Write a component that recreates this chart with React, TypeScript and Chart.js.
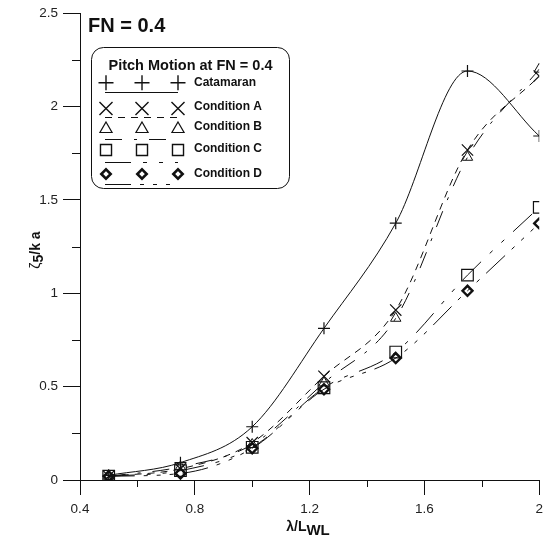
import { useEffect, useRef } from 'react';
import { Chart, registerables } from 'chart.js';

Chart.register(...registerables);

// Wave length ratio λ/L_WL
const waveLengths = [0.5, 0.75, 1.0, 1.25, 1.5, 1.75, 2.0];

// Non-dimensional pitch amplitude ζ5/ka
const catamaran = [0.025, 0.093, 0.285, 0.812, 1.375, 2.19, 1.842];
const conditionA = [0.02, 0.06, 0.2, 0.555, 0.91, 1.767, 2.163];
const conditionB = [0.02, 0.07, 0.19, 0.52, 0.866, 1.728, 2.2];
const conditionC = [0.02, 0.05, 0.175, 0.494, 0.685, 1.097, 1.46];
const conditionD = [0.02, 0.035, 0.17, 0.486, 0.653, 1.013, 1.374];

const seriesNames = ['Catamaran', 'Condition A', 'Condition B', 'Condition C', 'Condition D'];
const xTickLabels = ['0.4', '0.8', '1.2', '1.6', '2'];
const yTickLabels = ['0', '0.5', '1', '1.5', '2', '2.5'];
const xMinorTicks = [0.6, 1.0, 1.4, 1.8];
const yMinorTicks = [0.25, 0.75, 1.25, 1.75, 2.25];

const chartTitle = 'FN = 0.4';
const legendTitle = 'Pitch Motion at FN = 0.4';

type SeriesStyle = {
  point: 'cross' | 'crossRot' | 'triangle' | 'rect' | 'rectRot';
  radius: number;
  legendRadius: number;
  pointWidth: number;
  dash: number[];
};

const seriesStyles: SeriesStyle[] = [
  { point: 'cross', radius: 6, legendRadius: 7.5, pointWidth: 1.2, dash: [] },
  { point: 'crossRot', radius: 8, legendRadius: 9.2, pointWidth: 1.2, dash: [7, 6] },
  { point: 'triangle', radius: 6, legendRadius: 7, pointWidth: 1, dash: [17, 12, 3, 12] },
  { point: 'rect', radius: 8.2, legendRadius: 7.8, pointWidth: 1.2, dash: [26, 12, 4, 12, 4, 12] },
  { point: 'rectRot', radius: 5, legendRadius: 6.6, pointWidth: 2.4, dash: [26, 9, 4, 9, 4, 9, 4, 9] },
];

const seriesValues = [catamaran, conditionA, conditionB, conditionC, conditionD];

const INK = '#111';
const SANS = '"Liberation Sans", Arial, Helvetica, sans-serif';

function drawMarker(ctx: CanvasRenderingContext2D, style: SeriesStyle['point'], x: number, y: number, r: number) {
  ctx.beginPath();
  if (style === 'cross') {
    ctx.moveTo(x - r, y); ctx.lineTo(x + r, y);
    ctx.moveTo(x, y - r); ctx.lineTo(x, y + r);
  } else if (style === 'crossRot') {
    const d = r * Math.SQRT1_2;
    ctx.moveTo(x - d, y - d); ctx.lineTo(x + d, y + d);
    ctx.moveTo(x + d, y - d); ctx.lineTo(x - d, y + d);
  } else if (style === 'triangle') {
    ctx.moveTo(x, y - r);
    ctx.lineTo(x + r * 0.866, y + r * 0.5);
    ctx.lineTo(x - r * 0.866, y + r * 0.5);
    ctx.closePath();
  } else if (style === 'rect') {
    const s = r * Math.SQRT1_2;
    ctx.rect(x - s, y - s, 2 * s, 2 * s);
  } else {
    const s = r * Math.SQRT1_2;
    ctx.moveTo(x - s, y); ctx.lineTo(x, y + s);
    ctx.lineTo(x + s, y); ctx.lineTo(x, y - s);
    ctx.closePath();
  }
  ctx.stroke();
}

const decorations = {
  id: 'decorations',
  afterDraw(chart: any) {
    const { ctx } = chart;
    const xs = chart.scales.x;
    const ys = chart.scales.y;
    const area = chart.chartArea;
    ctx.save();
    ctx.strokeStyle = INK;
    ctx.lineWidth = 1;
    ctx.setLineDash([]);

    // minor ticks
    ctx.beginPath();
    for (const v of yMinorTicks) {
      const py = Math.round(ys.getPixelForValue(v)) + 0.5;
      ctx.moveTo(area.left - 8, py);
      ctx.lineTo(area.left, py);
    }
    for (const v of xMinorTicks) {
      const px = Math.round(xs.getPixelForValue(v)) + 0.5;
      ctx.moveTo(px, area.bottom);
      ctx.lineTo(px, area.bottom + 7);
    }
    ctx.stroke();

    // chart heading
    ctx.fillStyle = INK;
    ctx.font = `bold 20px ${SANS}`;
    ctx.textAlign = 'left';
    ctx.textBaseline = 'alphabetic';
    ctx.fillText(chartTitle, 88, 32);

    // y axis title: ζ5/k a
    ctx.save();
    ctx.translate(36, 250);
    ctx.rotate(-Math.PI / 2);
    ctx.textBaseline = 'middle';
    const parts: [string, string, number][] = [
      ['ζ', `14px ${SANS}`, 0],
      ['5', `bold 14px ${SANS}`, 3],
      ['/k a', `bold 14px ${SANS}`, 0],
    ];
    let total = 0;
    for (const [t, f] of parts) { ctx.font = f; total += ctx.measureText(t).width; }
    let cx = -total / 2;
    for (const [t, f, dy] of parts) {
      ctx.font = f;
      ctx.fillText(t, cx, dy);
      cx += ctx.measureText(t).width;
    }
    ctx.restore();

    // x axis title: λ/L_WL
    ctx.textBaseline = 'middle';
    const xParts: [string, string, number][] = [
      ['λ/L', `bold 14px ${SANS}`, 0],
      ['WL', `bold 15px ${SANS}`, 4],
    ];
    let xt = 0;
    for (const [t, f] of xParts) { ctx.font = f; xt += ctx.measureText(t).width; }
    let lx = 308 - xt / 2;
    for (const [t, f, dy] of xParts) {
      ctx.font = f;
      ctx.fillText(t, lx, 527 + dy);
      lx += ctx.measureText(t).width;
    }

    // legend box
    const bx = 91, by = 47, bw = 198, bh = 141, br = 12;
    ctx.beginPath();
    ctx.roundRect(bx + 0.5, by + 0.5, bw, bh, br);
    ctx.fillStyle = '#fff';
    ctx.fill();
    ctx.strokeStyle = INK;
    ctx.stroke();

    ctx.fillStyle = INK;
    ctx.font = `bold 14.5px ${SANS}`;
    ctx.textAlign = 'center';
    ctx.textBaseline = 'alphabetic';
    ctx.fillText(legendTitle, 190.5, 70);

    const markerRows = [82.7, 108.5, 129, 150, 174];
    const textRows = [82.5, 106.7, 126.7, 148.3, 173.3];
    const lineRows = [92.5, 117.5, 139.5, 162.5, 184.5];
    const markerXs = [106, 142, 178];
    seriesNames.forEach((name, i) => {
      const st = seriesStyles[i];
      ctx.strokeStyle = INK;
      ctx.lineWidth = st.pointWidth + 0.2;
      ctx.setLineDash([]);
      for (const mx of markerXs) drawMarker(ctx, st.point, mx, markerRows[i], st.legendRadius);
      ctx.lineWidth = 1;
      ctx.setLineDash(st.dash);
      ctx.beginPath();
      ctx.moveTo(105, lineRows[i]);
      ctx.lineTo(178, lineRows[i]);
      ctx.stroke();
      ctx.setLineDash([]);
      ctx.font = `bold 12px ${SANS}`;
      ctx.textAlign = 'left';
      ctx.textBaseline = 'middle';
      ctx.fillText(name, 194, textRows[i]);
    });

    ctx.restore();
  },
};

export default function App() {
  const canvasRef = useRef<HTMLCanvasElement | null>(null);

  useEffect(() => {
    const canvas = canvasRef.current;
    if (!canvas) return;

    const datasets = seriesNames.map((name, i) => {
      const st = seriesStyles[i];
      return {
        label: name,
        data: waveLengths.map((x, k) => ({ x, y: seriesValues[i][k] })),
        borderColor: INK,
        borderWidth: 1,
        borderDash: st.dash,
        backgroundColor: 'transparent',
        pointStyle: st.point,
        pointRadius: st.radius,
        pointHoverRadius: st.radius,
        pointBorderColor: INK,
        pointBackgroundColor: 'transparent',
        pointBorderWidth: st.pointWidth,
        cubicInterpolationMode: 'monotone' as const,
        fill: false,
      };
    });

    const chart = new Chart(canvas, {
      type: 'line',
      data: { datasets },
      options: {
        animation: false,
        responsive: false,
        devicePixelRatio: 1,
        events: [],
        layout: { padding: { top: 13, right: 7, left: 0, bottom: 0 } },
        plugins: {
          legend: { display: false },
          tooltip: { enabled: false },
        },
        scales: {
          x: {
            type: 'linear',
            min: 0.4,
            max: 2.0,
            afterFit: (s: any) => { s.height = 59; },
            border: { display: true, color: INK, width: 1 },
            grid: {
              drawOnChartArea: false,
              drawTicks: true,
              tickLength: 15,
              tickWidth: 1,
              tickColor: (c: any) => {
                const v = c.tick ? c.tick.value : 0;
                return xTickLabels.some((l) => Math.abs(parseFloat(l) - v) < 1e-6) ? INK : 'rgba(0,0,0,0)';
              },
            },
            ticks: {
              stepSize: 0.4,
              padding: 6,
              color: '#222',
              font: { family: SANS, size: 13.5 },
              maxRotation: 0,
              autoSkip: false,
              callback: (v: any) => xTickLabels.find((l) => Math.abs(parseFloat(l) - Number(v)) < 1e-6) ?? '',
            },
          },
          y: {
            type: 'linear',
            min: 0,
            max: 2.5,
            afterFit: (s: any) => { s.width = 80; },
            border: { display: true, color: INK, width: 1 },
            grid: {
              drawOnChartArea: false,
              drawTicks: true,
              tickLength: 17,
              tickWidth: 1,
              tickColor: (c: any) => {
                const v = c.tick ? c.tick.value : 0;
                return yTickLabels.some((l) => Math.abs(parseFloat(l) - v) < 1e-6) ? INK : 'rgba(0,0,0,0)';
              },
            },
            ticks: {
              stepSize: 0.5,
              padding: 5,
              color: '#222',
              font: { family: SANS, size: 13.5 },
              autoSkip: false,
              callback: (v: any) => yTickLabels.find((l) => Math.abs(parseFloat(l) - Number(v)) < 1e-6) ?? '',
            },
          },
        },
      },
      plugins: [decorations],
    });

    return () => chart.destroy();
  }, []);

  return (
    <div style={{ position: 'absolute', left: 0, top: 0, width: 549, height: 539, background: '#fff' }}>
      <canvas ref={canvasRef} width={549} height={539} style={{ display: 'block' }} />
    </div>
  );
}
